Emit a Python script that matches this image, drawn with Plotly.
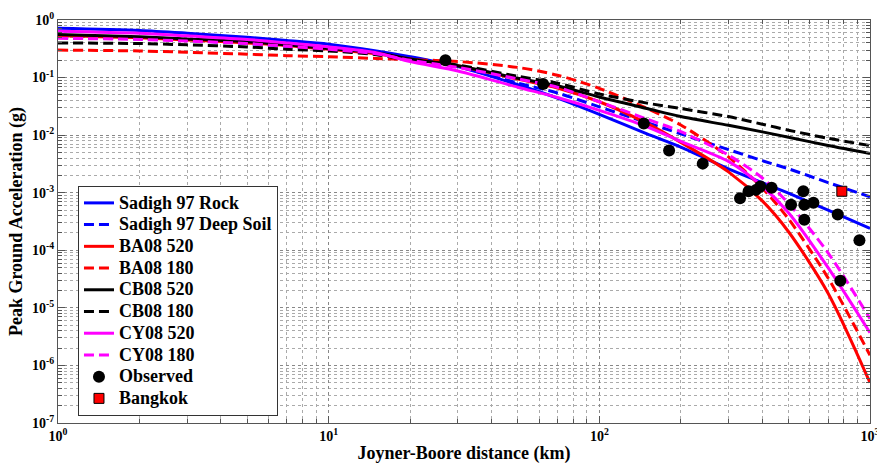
import plotly.graph_objects as go

dist = [1, 2, 3, 5, 7, 10, 15, 20, 30, 50, 70, 100, 150, 200, 300, 400, 500, 700, 1000]

sadigh_rock = [0.72, 0.66, 0.59, 0.50, 0.44, 0.38, 0.29, 0.23, 0.155, 0.075, 0.044, 0.023,
               0.0105, 0.0062, 0.0026, 0.0015, 0.00098, 0.0005, 0.00024]
sadigh_soil = [0.50, 0.47, 0.44, 0.39, 0.35, 0.31, 0.26, 0.21, 0.155, 0.08, 0.054, 0.031,
               0.0165, 0.0105, 0.0056, 0.0036, 0.0026, 0.0015, 0.00085]
ba08_520 = [0.53, 0.49, 0.45, 0.40, 0.36, 0.31, 0.26, 0.21, 0.16, 0.094, 0.066, 0.038,
            0.016, 0.0075, 0.0023, 0.00072, 0.00021, 0.000018, 0.0000005]
ba08_180 = [0.30, 0.29, 0.275, 0.255, 0.24, 0.23, 0.215, 0.205, 0.19, 0.15, 0.11, 0.065,
            0.029, 0.015, 0.0042, 0.0012, 0.00035, 0.000033, 0.0000015]
cb08_520 = [0.56, 0.51, 0.47, 0.42, 0.37, 0.32, 0.27, 0.21, 0.16, 0.097, 0.072, 0.046,
            0.029, 0.021, 0.0148, 0.0114, 0.0092, 0.0066, 0.0048]
cb08_180 = [0.40, 0.39, 0.37, 0.34, 0.31, 0.29, 0.25, 0.20, 0.165, 0.105, 0.08, 0.052,
            0.036, 0.029, 0.021, 0.0155, 0.0122, 0.0088, 0.0066]
cy08_520 = [0.64, 0.59, 0.53, 0.46, 0.40, 0.34, 0.27, 0.19, 0.13, 0.068, 0.045, 0.027,
            0.014, 0.0078, 0.0035, 0.0013, 0.00045, 0.00005, 0.0000037]
cy08_180 = [0.48, 0.46, 0.43, 0.39, 0.35, 0.31, 0.26, 0.20, 0.15, 0.095, 0.068, 0.038,
            0.019, 0.0115, 0.0045, 0.0018, 0.00065, 0.00009, 0.0000065]

obs_x = [27, 62, 146, 181, 241, 331, 356, 379, 393, 433, 511, 567, 572, 572, 618, 760, 914, 777]
obs_y = [0.20, 0.077, 0.016, 0.0054, 0.0032, 0.0008, 0.00106, 0.00112, 0.00128, 0.00122,
         0.00062, 0.00106, 0.00062, 0.00034, 0.00067, 0.00042, 0.00015, 0.0000295]
bkk_x = [787]
bkk_y = [0.00106]

x_decades = [0, 1, 2, 3]
y_decades = [-7, -6, -5, -4, -3, -2, -1, 0]

FONT = "Liberation Serif, Times New Roman, serif"
DASH = "10px,5px"

curves = [
    ("Sadigh 97 Rock", sadigh_rock, "#0000FF", "solid"),
    ("Sadigh 97 Deep Soil", sadigh_soil, "#0000FF", DASH),
    ("BA08 520", ba08_520, "#FF0000", "solid"),
    ("BA08 180", ba08_180, "#FF0000", DASH),
    ("CB08 520", cb08_520, "#000000", "solid"),
    ("CB08 180", cb08_180, "#000000", DASH),
    ("CY08 520", cy08_520, "#FF00FF", "solid"),
    ("CY08 180", cy08_180, "#FF00FF", DASH),
]

def lab(s):
    # bigger legend text than the row spacing would normally give
    return "<span style='font-size:18px'>%s</span>" % s

fig = go.Figure()
for name, vals, col, dash in curves:
    fig.add_trace(go.Scatter(x=dist, y=vals, name=lab(name), mode="lines",
                             line=dict(color=col, width=3, dash=dash, shape="spline", smoothing=0.8)))

fig.add_trace(go.Scatter(x=obs_x, y=obs_y, name=lab("Observed"), mode="markers",
                         marker=dict(color="black", size=12, symbol="circle")))
fig.add_trace(go.Scatter(x=bkk_x, y=bkk_y, name=lab("Bangkok"), mode="markers",
                         marker=dict(color="#FF0000", size=10, symbol="square",
                                     line=dict(color="black", width=1))))

def minors(decades):
    return [m * 10 ** d for d in decades[:-1] for m in range(2, 10)]

axis_common = dict(
    type="log", showline=True, linecolor="#555", linewidth=1, mirror="allticks",
    ticks="inside", ticklen=7, tickcolor="#555", automargin=False,
    ticklabeloverflow="allow",
    showgrid=True, gridcolor="#888", griddash="dot", gridwidth=1,
    zeroline=False, tickfont=dict(family=FONT, size=14, color="black", weight="bold"),
)
minor_common = dict(tickmode="array", ticks="inside", ticklen=4, tickcolor="#555",
                    showgrid=True, gridcolor="#aaa", griddash="dot", gridwidth=1)

fig.update_xaxes(
    range=[0, 3], tickmode="array",
    tickvals=[10 ** d for d in x_decades],
    ticktext=["10<sup>%d</sup>" % d for d in x_decades],
    minor=dict(tickvals=minors(x_decades), **minor_common),
    title=dict(text="Joyner-Boore distance (km)", font=dict(family=FONT, size=18, color="black", weight="bold"),
               standoff=3),
    **axis_common,
)
fig.update_yaxes(
    range=[-7, 0], tickmode="array",
    tickvals=[10 ** d for d in y_decades],
    ticktext=["10<sup>%s</sup>" % (str(d) if d < 0 else "0") for d in y_decades],
    minor=dict(tickvals=minors(y_decades), **minor_common),
    title=dict(text="Peak Ground Acceleration (g)", font=dict(family=FONT, size=18, color="black", weight="bold"),
               standoff=4),
    **axis_common,
)

fig.update_layout(
    width=877, height=468,
    margin=dict(l=58, r=7, t=20, b=45),
    paper_bgcolor="white", plot_bgcolor="white",
    font=dict(family=FONT, color="black"),
    legend=dict(x=0.0246, y=0.588, xanchor="left", yanchor="top",
                bgcolor="white", bordercolor="#333", borderwidth=1,
                font=dict(family=FONT, size=14.4, color="black", weight="bold"),
                itemwidth=30, tracegroupgap=0),
    showlegend=True,
)

# drop the default 8px page margin so the figure sits at the window corner
fig.write_html("out.html", config={"displayModeBar": False},
               post_script="document.body.style.margin='0';")
